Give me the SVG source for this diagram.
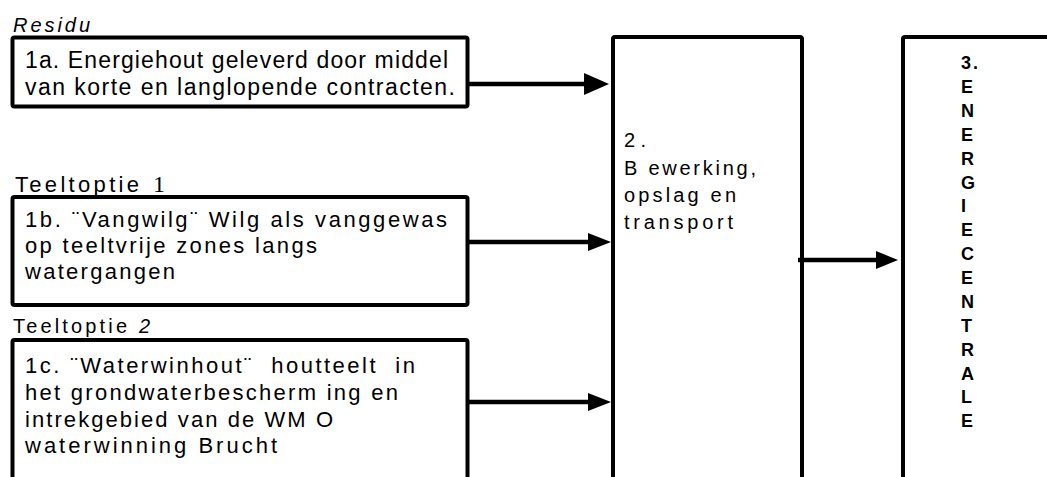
<svg xmlns="http://www.w3.org/2000/svg" width="1047" height="477" viewBox="0 0 1047 477">
<style>
.box{fill:#fff;stroke:#000;stroke-width:4;stroke-linejoin:round}
.t{font-family:"Liberation Sans",Arial,sans-serif;fill:#000;white-space:pre}
.a{font-size:23px}
.b{font-size:22px}
.s{font-size:20px}
.v{font-size:18px;font-weight:bold}
.ln{stroke:#000;stroke-width:4.5;fill:none}
.hd{fill:#000;stroke:none}
</style>
<rect width="1047" height="477" fill="#fff"/>
<g id="label-residu"><text class="t" x="13" y="32" font-size="20" font-style="italic" textLength="77" lengthAdjust="spacing">Residu</text></g>
<g id="label-teeltoptie1">
<text class="t" x="15" y="192" font-size="22" textLength="124" lengthAdjust="spacing">Teeltoptie</text>
<text x="153" y="192" font-family="Liberation Serif,serif" font-size="24" fill="#000">1</text>
</g>
<g id="label-teeltoptie2">
<text class="t" x="13" y="333" font-size="20" textLength="114" lengthAdjust="spacing">Teeltoptie</text>
<text class="t" x="139" y="333" font-size="20" font-style="italic">2</text>
</g>
<g id="node-1a">
<rect class="box" x="12.5" y="37.5" width="455" height="69" rx="2"/>
<text class="t a" x="25" y="68" textLength="423" lengthAdjust="spacing">1a. Energiehout geleverd door middel</text>
<text class="t a" x="25" y="95" textLength="430" lengthAdjust="spacing">van korte en langlopende contracten.</text>
</g>
<g id="node-1b">
<rect class="box" x="12.5" y="197" width="455" height="108" rx="2"/>
<text class="t b" x="25" y="227" textLength="422" lengthAdjust="spacing">1b. ¨Vangwilg¨ Wilg als vanggewas</text>
<text class="t b" x="25" y="253" textLength="292" lengthAdjust="spacing">op teeltvrije zones langs</text>
<text class="t b" x="25" y="279" textLength="150" lengthAdjust="spacing">watergangen</text>
</g>
<g id="node-1c">
<rect class="box" x="12.5" y="340" width="455" height="170" rx="2"/>
<text class="t b" x="25" y="373" textLength="390" lengthAdjust="spacing">1c. ¨Waterwinhout¨  houtteelt  in</text>
<text class="t b" x="25" y="400" textLength="373" lengthAdjust="spacing">het grondwaterbescherm ing en</text>
<text class="t b" x="25" y="427" textLength="308" lengthAdjust="spacing">intrekgebied van de WM O</text>
<text class="t b" x="25" y="453" textLength="252" lengthAdjust="spacing">waterwinning Brucht</text>
</g>
<g id="node-2">
<rect class="box" x="613" y="37" width="189" height="480" rx="2"/>
<text class="t s" x="624" y="147" textLength="22" lengthAdjust="spacing">2.</text>
<text class="t s" x="624" y="175" textLength="132" lengthAdjust="spacing">B ewerking,</text>
<text class="t s" x="624" y="202" textLength="112" lengthAdjust="spacing">opslag en</text>
<text class="t s" x="624" y="229" textLength="109" lengthAdjust="spacing">transport</text>
</g>
<g id="node-3">
<rect class="box" x="903" y="37" width="200" height="480" rx="2"/>
<g class="t v">
<text x="961" y="69" letter-spacing="2">3.</text>
<text x="961" y="93">E</text>
<text x="961" y="117">N</text>
<text x="961" y="141">E</text>
<text x="961" y="165">R</text>
<text x="961" y="189">G</text>
<text x="961" y="212">I</text>
<text x="961" y="236">E</text>
<text x="961" y="260">C</text>
<text x="961" y="284">E</text>
<text x="961" y="308">N</text>
<text x="961" y="332">T</text>
<text x="961" y="356">R</text>
<text x="961" y="380">A</text>
<text x="961" y="403">L</text>
<text x="961" y="427">E</text>
</g>
</g>
<g id="connectors">
<line class="ln" x1="468" y1="84" x2="586" y2="84" stroke-width="5"/>
<polygon class="hd" points="584,73 609,84 584,95"/>
<line class="ln" x1="468" y1="242" x2="590" y2="242" stroke-width="4"/>
<polygon class="hd" points="588,233 611,242 588,251"/>
<line class="ln" x1="468" y1="402" x2="590" y2="402" stroke-width="4"/>
<polygon class="hd" points="588,393 611,402 588,411"/>
<line class="ln" x1="798" y1="260" x2="878" y2="260" stroke-width="4.5"/>
<polygon class="hd" points="876,251 898,260 876,269"/>
</g>
</svg>
